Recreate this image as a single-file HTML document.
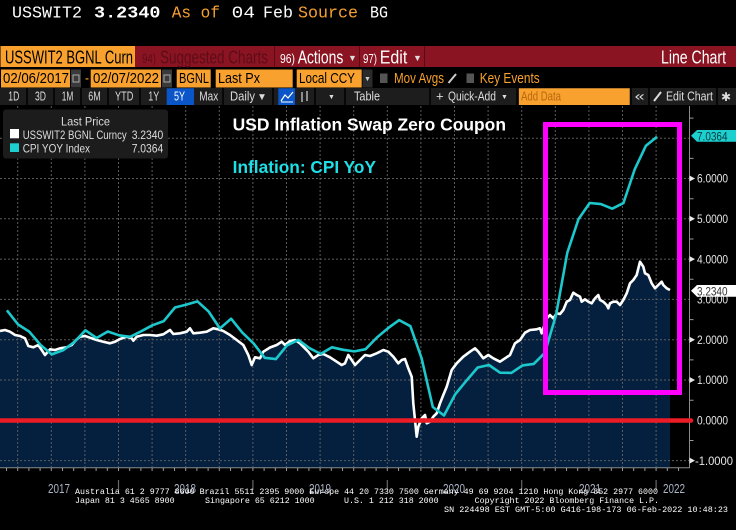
<!DOCTYPE html>
<html><head><meta charset="utf-8"><style>
html,body{margin:0;padding:0;background:#000;width:736px;height:530px;overflow:hidden}
svg{display:block}
text{font-family:"Liberation Sans","DejaVu Sans",sans-serif}
.mono{font-family:"Liberation Mono","DejaVu Sans Mono",monospace}
</style></head><body>
<svg width="736" height="530" viewBox="0 0 736 530" xmlns="http://www.w3.org/2000/svg">
<rect width="736" height="530" fill="#000"/>

<!-- header -->
<g class="mono" font-size="17">
<text class="mono" x="12" y="17.5" textLength="70" lengthAdjust="spacingAndGlyphs" fill="#fff">USSWIT2</text>
<text class="mono" x="94" y="17.5" textLength="66.5" lengthAdjust="spacingAndGlyphs" fill="#fff" font-weight="bold">3.2340</text>
<text class="mono" x="171.7" y="17.5" textLength="48.3" lengthAdjust="spacingAndGlyphs" fill="#f7a030">As of</text>
<text class="mono" x="231.7" y="17.5" textLength="23.3" lengthAdjust="spacingAndGlyphs" fill="#fff">04</text>
<text class="mono" x="263" y="17.5" textLength="30" lengthAdjust="spacingAndGlyphs" fill="#fff">Feb</text>
<text class="mono" x="298" y="17.5" textLength="60" lengthAdjust="spacingAndGlyphs" fill="#f7a030">Source</text>
<text class="mono" x="370" y="17.5" textLength="18" lengthAdjust="spacingAndGlyphs" fill="#fff">BG</text>
</g>

<!-- row 1 -->
<rect x="0.5" y="46" width="134.5" height="21" fill="#f8a12e"/>
<text x="5" y="63.5" font-size="18" textLength="128" lengthAdjust="spacingAndGlyphs" fill="#000">USSWIT2 BGNL Curn</text>
<rect x="135" y="46" width="601" height="21" fill="#8a1421"/>
<g stroke="#5a0a14" stroke-width="1"><line x1="274.5" y1="46" x2="274.5" y2="67"/><line x1="359.5" y1="46" x2="359.5" y2="67"/><line x1="424.5" y1="46" x2="424.5" y2="67"/></g>
<text x="142" y="63" font-size="13" textLength="14" lengthAdjust="spacingAndGlyphs" fill="#5e0c18">94)</text>
<text x="160" y="63.5" font-size="18" textLength="108" lengthAdjust="spacingAndGlyphs" fill="#5e0c18">Suggested Charts</text>
<text x="280" y="63" font-size="13" textLength="15" lengthAdjust="spacingAndGlyphs" fill="#fff">96)</text>
<text x="297.7" y="63.5" font-size="18" textLength="45.6" lengthAdjust="spacingAndGlyphs" fill="#fff">Actions</text>
<text x="348" y="61" font-size="9" fill="#ddd">▼</text>
<text x="363" y="63" font-size="13" textLength="14" lengthAdjust="spacingAndGlyphs" fill="#fff">97)</text>
<text x="379.7" y="63.5" font-size="18" textLength="27.6" lengthAdjust="spacingAndGlyphs" fill="#fff">Edit</text>
<text x="413" y="61" font-size="9" fill="#ddd">▼</text>
<text x="661" y="63.5" font-size="18" textLength="65" lengthAdjust="spacingAndGlyphs" fill="#fff">Line Chart</text>

<!-- row 2 -->
<g font-size="15">
<rect x="1" y="69.5" width="69" height="18" fill="#f8a12e"/>
<text x="3" y="83" textLength="66" lengthAdjust="spacingAndGlyphs" fill="#000">02/06/2017</text>
<rect x="71" y="69.5" width="10" height="18" fill="#3a3a3a"/><rect x="73" y="75" width="6" height="7" fill="none" stroke="#aaa" stroke-width="1"/>
<text x="85" y="83" textLength="4" lengthAdjust="spacingAndGlyphs" fill="#f8a12e">-</text>
<rect x="90.7" y="69.5" width="70.3" height="18" fill="#f8a12e"/>
<text x="93" y="83" textLength="66" lengthAdjust="spacingAndGlyphs" fill="#000">02/07/2022</text>
<rect x="162" y="69.5" width="10" height="18" fill="#3a3a3a"/><rect x="164" y="75" width="6" height="7" fill="none" stroke="#aaa" stroke-width="1"/>
<rect x="176.7" y="69.5" width="34" height="18" fill="#f8a12e"/>
<text x="179" y="83" textLength="30" lengthAdjust="spacingAndGlyphs" fill="#000">BGNL</text>
<rect x="215.7" y="69.5" width="77" height="18" fill="#f8a12e"/>
<text x="218" y="83" textLength="42" lengthAdjust="spacingAndGlyphs" fill="#000">Last Px</text>
<rect x="296.7" y="69.5" width="65" height="18" fill="#f8a12e"/>
<text x="299" y="83" textLength="56" lengthAdjust="spacingAndGlyphs" fill="#000">Local CCY</text>
<rect x="362.5" y="69.5" width="10" height="18" fill="#2a2a2a"/>
<text x="364" y="81" font-size="7" fill="#ccc">▼</text>
<rect x="380" y="73.5" width="7.5" height="9.5" fill="#555"/>
<text x="394" y="83" textLength="50" lengthAdjust="spacingAndGlyphs" fill="#f8a12e">Mov Avgs</text>
<line x1="448.5" y1="83" x2="456" y2="74" stroke="#ccc" stroke-width="2"/>
<rect x="466.5" y="73.5" width="7.5" height="9.5" fill="#555"/>
<text x="479.7" y="83" textLength="60" lengthAdjust="spacingAndGlyphs" fill="#f8a12e">Key Events</text>
</g>

<!-- row 3 -->
<rect x="0" y="88" width="736" height="17" fill="#1d1d1d"/>
<g stroke="#000" stroke-width="1.5">
<line x1="27" y1="88" x2="27" y2="105"/><line x1="54" y1="88" x2="54" y2="105"/><line x1="81" y1="88" x2="81" y2="105"/><line x1="108" y1="88" x2="108" y2="105"/><line x1="140" y1="88" x2="140" y2="105"/><line x1="223" y1="88" x2="223" y2="105"/><line x1="273" y1="88" x2="273" y2="105"/><line x1="315" y1="88" x2="315" y2="105"/><line x1="345" y1="88" x2="345" y2="105"/><line x1="430" y1="88" x2="430" y2="105"/><line x1="517" y1="88" x2="517" y2="105"/><line x1="631" y1="88" x2="631" y2="105"/><line x1="649" y1="88" x2="649" y2="105"/><line x1="717" y1="88" x2="717" y2="105"/>
</g>
<rect x="166.7" y="88.3" width="27.3" height="16.7" fill="#0a56c8"/>
<rect x="278.3" y="88.3" width="16.7" height="16.7" fill="#0a56c8"/>
<g font-size="12.5" fill="#dcdcdc">
<text x="8.3" y="100.7" textLength="11" lengthAdjust="spacingAndGlyphs">1D</text>
<text x="35" y="100.7" textLength="11" lengthAdjust="spacingAndGlyphs">3D</text>
<text x="61.7" y="100.7" textLength="11.6" lengthAdjust="spacingAndGlyphs">1M</text>
<text x="88.3" y="100.7" textLength="12.4" lengthAdjust="spacingAndGlyphs">6M</text>
<text x="115" y="100.7" textLength="18.3" lengthAdjust="spacingAndGlyphs">YTD</text>
<text x="148.3" y="100.7" textLength="11" lengthAdjust="spacingAndGlyphs">1Y</text>
<text x="174" y="100.7" textLength="11" lengthAdjust="spacingAndGlyphs" fill="#fff">5Y</text>
<text x="199.3" y="100.7" textLength="19" lengthAdjust="spacingAndGlyphs">Max</text>
<text x="230" y="100.7" textLength="25" lengthAdjust="spacingAndGlyphs">Daily</text>
<text x="257" y="100" font-size="10">▼</text>
<text x="354" y="100.7" textLength="26" lengthAdjust="spacingAndGlyphs">Table</text>
<text x="436" y="100.7" font-size="13">+</text>
<text x="448" y="100.7" textLength="48" lengthAdjust="spacingAndGlyphs">Quick-Add</text>
<text x="501" y="99" font-size="7">▼</text>
<text x="328" y="99" font-size="7">▼</text>
<text x="634.7" y="100.7" textLength="10" lengthAdjust="spacingAndGlyphs">«</text>
<text x="666" y="100.7" textLength="47" lengthAdjust="spacingAndGlyphs">Edit Chart</text>
<text x="721" y="101" font-size="12">✱</text>
</g>
<polyline points="281,101 285,95 288,98 293,92" fill="none" stroke="#fff" stroke-width="1.2"/>
<line x1="281" y1="102" x2="293" y2="102" stroke="#fff" stroke-width="1"/>
<g stroke="#ccc" stroke-width="1.3"><line x1="302" y1="92" x2="302" y2="102"/><line x1="307" y1="91" x2="307" y2="101"/></g>
<line x1="654" y1="101" x2="661" y2="92" stroke="#ddd" stroke-width="2"/>
<rect x="519" y="88.3" width="110.7" height="16.7" fill="#f8a12e"/>
<text x="521" y="100.7" font-size="12.5" textLength="40" lengthAdjust="spacingAndGlyphs" fill="#b8680e">Add Data</text>

<!-- plot: fill -->
<path fill="#04203e" d="M0,331 L5,330 L10,331.7 L15,335 L20,336 L25,338.3 L28.3,346 L33.3,347.3 L38.3,345 L41.7,350 L45,355 L50,349.3 L55,350 L60,348.3 L66.7,347.3 L71.7,345 L76,340 L80,336.7 L85,336 L90,337.7 L96.7,340 L103.3,341.7 L110,343.3 L115,341.7 L120,339 L126.7,336.7 L131.7,338.3 L133.3,340.7 L136.7,336.7 L143.3,335 L150,335 L156.7,335.7 L163.3,334.3 L170,330 L173.3,334 L180,333.3 L186.7,331.7 L190,328.3 L193.3,333.3 L200,332.7 L206.7,331.7 L213.3,328.3 L218.3,329.3 L223.3,331 L230,335 L236.7,340 L243.3,345 L248.3,355 L251.7,365 L255,357.3 L260,358.3 L263.3,351.7 L270,347.5 L276.7,345 L281.7,341.7 L285,345 L290,341 L295,340 L300,343.3 L303.3,346.7 L308.3,351.7 L313.3,358.3 L318.3,355 L323.3,354 L330,357.3 L336.7,361.7 L341.7,365 L345,363.3 L348.3,355 L351.7,360 L355,365 L360,360 L365,355 L370,356 L376.7,353.3 L383.3,350 L388.3,351.7 L393.3,356.7 L398.3,363.3 L401.7,360 L405,359 L408.3,368.3 L411.7,376.7 L413.3,403.3 L415,420 L416.7,436.7 L418.3,426.7 L421.7,418.3 L425,415 L426.7,423.3 L430,421.7 L433.3,416.7 L436.7,413.3 L440,403.3 L443.3,395 L446.7,386.7 L451.7,370 L456.7,363.3 L463.3,356.7 L470,351.7 L475,348.3 L478.3,351.7 L483.3,358.3 L488.3,355 L493.3,358.3 L500,361.7 L505,358.3 L510,355 L515,343.3 L520,340 L525,332.7 L530,330 L536.7,329.3 L540,328.3 L541.7,333.3 L546.7,318.3 L550,315 L553.3,318.3 L556.7,313.3 L560,314 L563.3,310 L566.7,301.7 L570,300 L573.3,292.7 L576.7,295 L580,296.7 L581.7,301.7 L585,299.3 L588.3,301.7 L591.7,303.3 L595,298.3 L598.3,295 L600,300 L603.3,301.7 L606.7,305 L608.3,308.3 L610,303.3 L613.3,301.7 L616.7,301.7 L620,305 L623.3,300 L626.7,293.3 L630,283.3 L633.3,280 L636.7,275 L640,261.7 L643.3,266.7 L645,273.3 L648.3,275 L651.7,283.3 L655,288.3 L658.3,285 L661.7,281.7 L663.3,285 L666.7,288.3 L670,290 L670,467.5 L0,467.5 Z"/>

<!-- grid -->
<g stroke="#5c5c5c" stroke-width="1" stroke-dasharray="2,2">
<line x1="0" y1="460.6" x2="689" y2="460.6"/><line x1="0" y1="380" x2="689" y2="380"/><line x1="0" y1="339.7" x2="689" y2="339.7"/><line x1="0" y1="299.4" x2="689" y2="299.4"/><line x1="0" y1="259.1" x2="689" y2="259.1"/><line x1="0" y1="218.8" x2="689" y2="218.8"/><line x1="0" y1="178.5" x2="689" y2="178.5"/><line x1="0" y1="138.2" x2="689" y2="138.2"/>
<line x1="17.7" y1="106" x2="17.7" y2="467"/><line x1="51.3" y1="106" x2="51.3" y2="467"/><line x1="84.9" y1="106" x2="84.9" y2="467"/><line x1="118.5" y1="106" x2="118.5" y2="467"/><line x1="152.1" y1="106" x2="152.1" y2="467"/><line x1="185.7" y1="106" x2="185.7" y2="467"/><line x1="219.3" y1="106" x2="219.3" y2="467"/><line x1="252.9" y1="106" x2="252.9" y2="467"/><line x1="286.5" y1="106" x2="286.5" y2="467"/><line x1="320.1" y1="106" x2="320.1" y2="467"/><line x1="353.7" y1="106" x2="353.7" y2="467"/><line x1="387.3" y1="106" x2="387.3" y2="467"/><line x1="420.9" y1="106" x2="420.9" y2="467"/><line x1="454.5" y1="106" x2="454.5" y2="467"/><line x1="488.1" y1="106" x2="488.1" y2="467"/><line x1="521.7" y1="106" x2="521.7" y2="467"/><line x1="555.3" y1="106" x2="555.3" y2="467"/><line x1="588.9" y1="106" x2="588.9" y2="467"/><line x1="622.5" y1="106" x2="622.5" y2="467"/><line x1="656.1" y1="106" x2="656.1" y2="467"/>
</g>

<!-- axes -->
<line x1="0" y1="467.7" x2="689.5" y2="467.7" stroke="#8a8a8a" stroke-width="1"/>
<line x1="689.5" y1="106" x2="689.5" y2="468" stroke="#8a8a8a" stroke-width="1"/>
<path stroke="#9a9a9a" stroke-width="1" d="M6.5,468v3M17.7,468v3M28.9,468v3M40.1,468v3M51.3,468v3M62.5,468v3M73.7,468v3M84.9,468v3M96.1,468v3M107.3,468v3M118.5,468v3M129.7,468v3M140.9,468v3M152.1,468v3M163.3,468v3M174.5,468v3M185.7,468v3M196.9,468v3M208.1,468v3M219.3,468v3M230.5,468v3M241.7,468v3M252.9,468v3M264.1,468v3M275.3,468v3M286.5,468v3M297.7,468v3M308.9,468v3M320.1,468v3M331.3,468v3M342.5,468v3M353.7,468v3M364.9,468v3M376.1,468v3M387.3,468v3M398.5,468v3M409.7,468v3M420.9,468v3M432.1,468v3M443.3,468v3M454.5,468v3M465.7,468v3M476.9,468v3M488.1,468v3M499.3,468v3M510.5,468v3M521.7,468v3M532.9,468v3M544.1,468v3M555.3,468v3M566.5,468v3M577.7,468v3M588.9,468v3M600.1,468v3M611.3,468v3M622.5,468v3M633.7,468v3M644.9,468v3M656.1,468v3M667.3,468v3M678.5,468v3"/>
<path stroke="#666" stroke-width="1.2" d="M118.5,480v10M252.9,480v10M387.3,480v10M521.7,480v10M656.1,480v10"/>
<path stroke="#9a9a9a" stroke-width="1" d="M689.5,440.5h4M689.5,400.2h4M689.5,359.9h4M689.5,319.6h4M689.5,279.3h4M689.5,239h4M689.5,198.7h4M689.5,158.4h4M689.5,118.1h4"/>
<g fill="#e8e8e8">
<path d="M689.5,457.6 L695,460.6 L689.5,463.6Z"/><path d="M689.5,377 L695,380 L689.5,383Z"/><path d="M689.5,336.7 L695,339.7 L689.5,342.7Z"/><path d="M689.5,256.1 L695,259.1 L689.5,262.1Z"/><path d="M689.5,215.8 L695,218.8 L689.5,221.8Z"/><path d="M689.5,175.5 L695,178.5 L689.5,181.5Z"/>
</g>
<g font-size="11.5" fill="#e6e6e6">
<text x="695" y="464.8" textLength="38" lengthAdjust="spacingAndGlyphs">-1.0000</text>
<text x="697" y="424.5" textLength="31" lengthAdjust="spacingAndGlyphs">0.0000</text>
<text x="697" y="384.2" textLength="31" lengthAdjust="spacingAndGlyphs">1.0000</text>
<text x="697" y="343.9" textLength="31" lengthAdjust="spacingAndGlyphs">2.0000</text>
<text x="697" y="303.6" textLength="31" lengthAdjust="spacingAndGlyphs">3.0000</text>
<text x="697" y="263.3" textLength="31" lengthAdjust="spacingAndGlyphs">4.0000</text>
<text x="697" y="223" textLength="31" lengthAdjust="spacingAndGlyphs">5.0000</text>
<text x="697" y="182.7" textLength="31" lengthAdjust="spacingAndGlyphs">6.0000</text>
</g>

<!-- white series -->
<path fill="none" stroke="#fff" stroke-width="2.6" stroke-linejoin="round" d="M0,331 L5,330 L10,331.7 L15,335 L20,336 L25,338.3 L28.3,346 L33.3,347.3 L38.3,345 L41.7,350 L45,355 L50,349.3 L55,350 L60,348.3 L66.7,347.3 L71.7,345 L76,340 L80,336.7 L85,336 L90,337.7 L96.7,340 L103.3,341.7 L110,343.3 L115,341.7 L120,339 L126.7,336.7 L131.7,338.3 L133.3,340.7 L136.7,336.7 L143.3,335 L150,335 L156.7,335.7 L163.3,334.3 L170,330 L173.3,334 L180,333.3 L186.7,331.7 L190,328.3 L193.3,333.3 L200,332.7 L206.7,331.7 L213.3,328.3 L218.3,329.3 L223.3,331 L230,335 L236.7,340 L243.3,345 L248.3,355 L251.7,365 L255,357.3 L260,358.3 L263.3,351.7 L270,347.5 L276.7,345 L281.7,341.7 L285,345 L290,341 L295,340 L300,343.3 L303.3,346.7 L308.3,351.7 L313.3,358.3 L318.3,355 L323.3,354 L330,357.3 L336.7,361.7 L341.7,365 L345,363.3 L348.3,355 L351.7,360 L355,365 L360,360 L365,355 L370,356 L376.7,353.3 L383.3,350 L388.3,351.7 L393.3,356.7 L398.3,363.3 L401.7,360 L405,359 L408.3,368.3 L411.7,376.7 L413.3,403.3 L415,420 L416.7,436.7 L418.3,426.7 L421.7,418.3 L425,415 L426.7,423.3 L430,421.7 L433.3,416.7 L436.7,413.3 L440,403.3 L443.3,395 L446.7,386.7 L451.7,370 L456.7,363.3 L463.3,356.7 L470,351.7 L475,348.3 L478.3,351.7 L483.3,358.3 L488.3,355 L493.3,358.3 L500,361.7 L505,358.3 L510,355 L515,343.3 L520,340 L525,332.7 L530,330 L536.7,329.3 L540,328.3 L541.7,333.3 L546.7,318.3 L550,315 L553.3,318.3 L556.7,313.3 L560,314 L563.3,310 L566.7,301.7 L570,300 L573.3,292.7 L576.7,295 L580,296.7 L581.7,301.7 L585,299.3 L588.3,301.7 L591.7,303.3 L595,298.3 L598.3,295 L600,300 L603.3,301.7 L606.7,305 L608.3,308.3 L610,303.3 L613.3,301.7 L616.7,301.7 L620,305 L623.3,300 L626.7,293.3 L630,283.3 L633.3,280 L636.7,275 L640,261.7 L643.3,266.7 L645,273.3 L648.3,275 L651.7,283.3 L655,288.3 L658.3,285 L661.7,281.7 L663.3,285 L666.7,288.3 L670,290"/>

<!-- cyan series -->
<polyline fill="none" stroke="#1cc8cc" stroke-width="2.6" stroke-linejoin="round" points="6.9,310.3 18.1,324.5 29.3,331.7 40.5,344.9 51.7,354.4 63,350.3 74.2,342.1 85.4,330.3 96.6,338 107.8,331.5 119,335.3 130.2,336.8 141.4,331.2 152.6,325.2 163.8,321.1 175,307.5 186.3,304.6 197.5,301.4 208.7,311.6 219.9,328.5 231.1,318.7 242.3,332.6 253.5,343.3 264.7,357.8 275.9,359.1 287.1,345.3 298.3,339.9 309.5,348.2 320.7,353.9 332,347.3 343.2,349.8 354.4,351.4 365.6,349.2 376.8,337.6 388,328.2 399.2,320.1 410.4,326.2 421.6,358.3 432.8,407 444,415.5 455.2,394.3 466.5,380.6 477.7,367.5 488.9,365 500.1,372.7 511.3,372.9 522.5,365.4 533.7,363.9 544.9,352.8 556.1,314.7 567.3,252.7 578.5,219.1 589.7,203 600.9,204.1 612.2,208.7 623.4,203.1 634.6,169.6 645.8,145.9 657,136.7"/>

<!-- zero line -->
<line x1="0" y1="420.5" x2="691" y2="420.5" stroke="#ec1c26" stroke-width="4.5" stroke-linecap="round"/>

<!-- magenta box -->
<rect x="545.5" y="124.5" width="134" height="268" fill="none" stroke="#ff00ff" stroke-width="5"/>

<!-- last value tags -->
<path d="M691,135.8 L697,130 L736,130 L736,141.7 L697,141.7 Z" fill="#1ecfd0"/>
<text x="697" y="140.3" font-size="11.5" textLength="30.5" lengthAdjust="spacingAndGlyphs" fill="#06383a">7.0364</text>
<path d="M691,290.8 L697,285 L736,285 L736,296.7 L697,296.7 Z" fill="#fff"/>
<text x="697" y="295.3" font-size="11.5" textLength="30.5" lengthAdjust="spacingAndGlyphs" fill="#333">3.2340</text>

<!-- legend -->
<rect x="3" y="109.5" width="165" height="49" rx="3" fill="#1c1c1c"/>
<text x="61" y="125.7" font-size="12" textLength="49" lengthAdjust="spacingAndGlyphs" fill="#dcdcdc">Last Price</text>
<rect x="10" y="129" width="9" height="9.3" fill="#fff"/>
<text x="22.7" y="139" font-size="12" textLength="104" lengthAdjust="spacingAndGlyphs" fill="#dcdcdc">USSWIT2 BGNL Curncy</text>
<text x="131.7" y="139" font-size="12" textLength="31.6" lengthAdjust="spacingAndGlyphs" fill="#dcdcdc">3.2340</text>
<rect x="10" y="143.3" width="9" height="8.7" fill="#1ecfd0"/>
<text x="22.7" y="152.5" font-size="12" textLength="67.3" lengthAdjust="spacingAndGlyphs" fill="#dcdcdc">CPI YOY Index</text>
<text x="131.7" y="152.5" font-size="12" textLength="31.6" lengthAdjust="spacingAndGlyphs" fill="#dcdcdc">7.0364</text>

<!-- titles -->
<text x="232.7" y="130.7" font-size="17.4" font-weight="bold" textLength="273.3" lengthAdjust="spacingAndGlyphs" fill="#fff">USD Inflation Swap Zero Coupon</text>
<text x="232.7" y="173" font-size="17.2" font-weight="bold" textLength="143.3" lengthAdjust="spacingAndGlyphs" fill="#1fdfe6">Inflation: CPI YoY</text>

<!-- year labels -->
<g font-size="13" fill="#aab4c6">
<text x="48" y="493" textLength="22" lengthAdjust="spacingAndGlyphs">2017</text>
<text x="174" y="493" textLength="22" lengthAdjust="spacingAndGlyphs">2018</text>
<text x="309" y="493" textLength="22" lengthAdjust="spacingAndGlyphs">2019</text>
<text x="443" y="493" textLength="22" lengthAdjust="spacingAndGlyphs">2020</text>
<text x="579" y="493" textLength="22" lengthAdjust="spacingAndGlyphs">2021</text>
<text x="663" y="493" textLength="22" lengthAdjust="spacingAndGlyphs">2022</text>
</g>

<!-- footer -->
<g font-size="8.3" fill="#fff">
<text class="mono" x="75" y="494" textLength="583" lengthAdjust="spacingAndGlyphs">Australia 61 2 9777 8600 Brazil 5511 2395 9000 Europe 44 20 7330 7500 Germany 49 69 9204 1210 Hong Kong 852 2977 6000</text>
<text class="mono" x="75" y="503" textLength="99.6" lengthAdjust="spacingAndGlyphs">Japan 81 3 4565 8900</text>
<text class="mono" x="205" y="503" textLength="109.6" lengthAdjust="spacingAndGlyphs">Singapore 65 6212 1000</text>
<text class="mono" x="344" y="503" textLength="94.6" lengthAdjust="spacingAndGlyphs">U.S. 1 212 318 2000</text>
<text class="mono" x="474.7" y="503" textLength="184.3" lengthAdjust="spacingAndGlyphs">Copyright 2022 Bloomberg Finance L.P.</text>
<text class="mono" x="444" y="512" textLength="284" lengthAdjust="spacingAndGlyphs">SN 224498 EST  GMT-5:00 G416-198-173 06-Feb-2022 10:48:23</text>
</g>
</svg>
</body></html>
